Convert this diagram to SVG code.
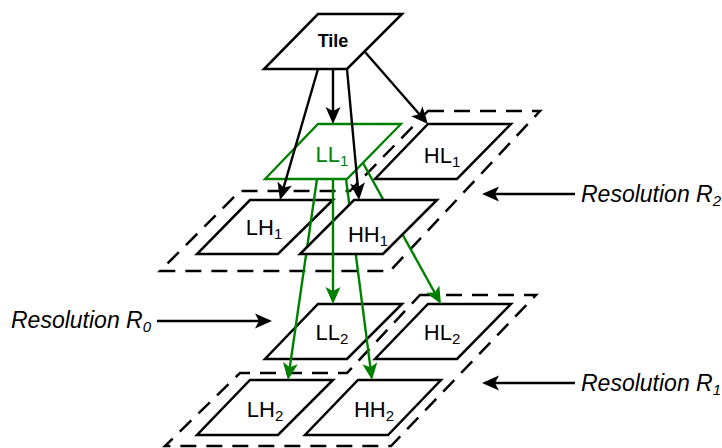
<svg xmlns="http://www.w3.org/2000/svg" width="722" height="448" viewBox="0 0 722 448">
<style>
.box{fill:#fff;stroke:#000;stroke-width:2.5;stroke-linejoin:miter}
.gbox{fill:none;stroke:#008000;stroke-width:2.3}
.region{fill:none;stroke:#000;stroke-width:2.5;stroke-dasharray:16 10}
.lbl{font-family:"Liberation Sans",Arial,sans-serif;font-size:22px;fill:#000;text-anchor:middle}
.res{font-family:"Liberation Sans",Arial,sans-serif;font-size:23px;font-style:italic;fill:#000}
.blk{stroke:#000;stroke-width:2.4;fill:none;marker-end:url(#ahB)}
.grn{stroke:#008000;stroke-width:2.4;fill:none;marker-end:url(#ahG)}
</style>
<defs>
<marker id="ahB" viewBox="-10 -8 19 16" refX="0" refY="0" markerWidth="19" markerHeight="16" markerUnits="userSpaceOnUse" orient="auto">
<path d="M8,0 L-9,-7.5 L-5,0 L-9,7.5 Z" fill="#000"/>
</marker>
<marker id="ahG" viewBox="-10 -8 19 16" refX="0" refY="0" markerWidth="19" markerHeight="16" markerUnits="userSpaceOnUse" orient="auto">
<path d="M8,0 L-9,-7.5 L-5,0 L-9,7.5 Z" fill="#008000"/>
</marker>
</defs>

<g id="regionR2"><polygon class="region" points="428,111 540,111 390,271 160,271 240,191 350,191"/></g>
<g id="regionR1"><polygon class="region" points="420,295 536,295 391,446 165,446 240,373 347,373"/></g>

<g id="LL1"><polygon class="gbox" points="318,124 401,124 347,179 265,179"/>
<text class="lbl" x="332" y="162" style="fill:#008000">LL<tspan font-size="15" dy="4">1</tspan></text></g>
<g id="HL1"><polygon class="box" points="428,124 511,124 457,179 375,179"/>
<text class="lbl" x="442" y="163">HL<tspan font-size="15" dy="4">1</tspan></text></g>
<g id="LH1"><polygon class="box" points="250,200 333,200 278,254 197,254"/>
<text class="lbl" x="264" y="235">LH<tspan font-size="15" dy="4">1</tspan></text></g>

<g id="LL2"><polygon class="box" points="318,304 402,304 347,359 265,359"/>
<text class="lbl" x="332" y="340">LL<tspan font-size="15" dy="4">2</tspan></text></g>
<g id="HL2"><polygon class="box" points="428,304 511,304 457,359 375,359"/>
<text class="lbl" x="442" y="340">HL<tspan font-size="15" dy="4">2</tspan></text></g>
<g id="LH2"><polygon class="box" points="250,380 333,380 278,435 197,435"/>
<text class="lbl" x="265" y="417">LH<tspan font-size="15" dy="4">2</tspan></text></g>
<g id="HH2"><polygon class="box" points="358,380 441,380 388,435 305,435"/>
<text class="lbl" x="374" y="417">HH<tspan font-size="15" dy="4">2</tspan></text></g>

<g id="connectors-under">
<line class="grn" x1="317" y1="179" x2="289.1" y2="372.1"/>
<line class="grn" x1="346" y1="179" x2="371" y2="372.1"/>
<line class="grn" x1="363" y1="163" x2="437.1" y2="297"/>
</g>

<g id="HH1"><polygon class="box" points="354,200 437,200 383,254 300,254"/>
<text class="lbl" x="368" y="242">HH<tspan font-size="15" dy="4">1</tspan></text></g>

<g id="Tile"><polygon class="box" points="318,14 402,14 347,69 264,69"/>
<text x="333" y="47" font-family="Liberation Sans,Arial,sans-serif" font-size="18" font-weight="bold" text-anchor="middle">Tile</text></g>

<g id="connectors">
<line class="grn" x1="333" y1="179" x2="333" y2="296"/>
<line class="blk" x1="318" y1="69" x2="282.2" y2="192.3"/>
<line class="blk" x1="333" y1="69" x2="333" y2="116"/>
<line class="blk" x1="347" y1="69" x2="358.3" y2="192"/>
<line class="blk" x1="365" y1="52" x2="422.7" y2="118"/>
<line class="blk" x1="157" y1="321" x2="264" y2="321"/>
<line class="blk" x1="575" y1="194" x2="490" y2="194"/>
<line class="blk" x1="575" y1="383" x2="490" y2="383"/>
</g>

<g id="labels">
<text class="res" x="11" y="328">Resolution R<tspan font-size="15" dy="4">0</tspan></text>
<text class="res" x="581" y="202">Resolution R<tspan font-size="15" dy="4">2</tspan></text>
<text class="res" x="581" y="391">Resolution R<tspan font-size="15" dy="4">1</tspan></text>
</g>
</svg>
